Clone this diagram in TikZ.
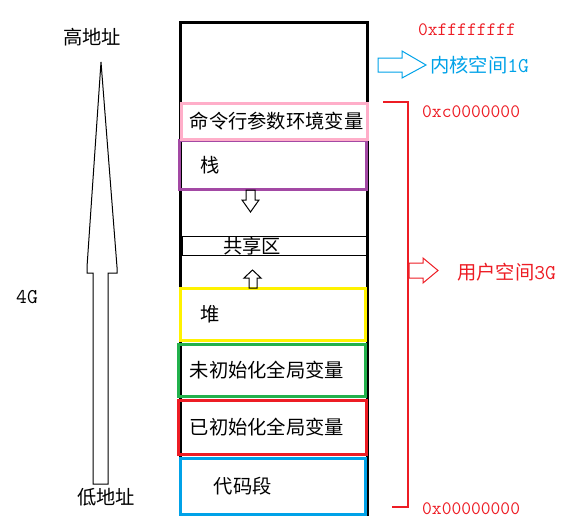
\documentclass[tikz,border=0pt]{standalone}
\usepackage{fontspec}
\setmainfont{Liberation Serif}
\newfontfamily\cjk{Noto Sans CJK SC}
\usetikzlibrary{positioning, calc}
\definecolor{segpink}{HTML}{FFAEC9}
\definecolor{segpurple}{HTML}{A349A4}
\definecolor{segyellow}{HTML}{FFF200}
\definecolor{seggreen}{HTML}{22B14C}
\definecolor{segred}{HTML}{ED1C24}
\definecolor{segblue}{HTML}{00A2E8}
\newcommand{\halfw}[1]{{\ttfamily\fontsize{21}{21}\selectfont #1}}
\tikzset{
  seg/.style={draw, line width=3pt, inner sep=0pt},
  zhtext/.style={font=\cjk\fontsize{19.3}{19.3}\selectfont, inner sep=0pt},
  hextext/.style={font=\ttfamily\fontsize{19}{19}\selectfont, inner sep=0pt, text=segred},
  blockarrow/.style={line width=1pt, line join=miter}
}
\begin{document}
\begin{tikzpicture}[x=1pt, y=-1pt]
  \useasboundingbox (0,0) rectangle (581,523);
  \draw[line width=3pt] (180,22) rectangle (367,514);
  \node[seg, draw=segpurple, minimum width=187, minimum height=49.5] (stack) at (273,164.75) {};
  \node[seg, draw=segpink, minimum width=186, minimum height=36] (args) at (274.5,121.5) {};
  \node[draw, line width=0.8pt, inner sep=0pt, minimum width=185, minimum height=19] (shared) at (274.5,245.5) {};
  \node[seg, draw=segyellow, minimum width=185, minimum height=52] (heap) at (272.5,314.5) {};
  \node[seg, draw=seggreen, minimum width=187, minimum height=52] (bss) at (272,370.5) {};
  \node[seg, draw=segred, minimum width=188, minimum height=54] (data) at (272.5,427.5) {};
  \node[seg, draw=segblue, minimum width=185, minimum height=56] (code) at (273,486.5) {};

  \node[zhtext, anchor=west] (argslbl) at ([xshift=9.5pt]args.west) {命令行参数环境变量};
  \node[zhtext, anchor=west] (stacklbl) at ([xshift=22.5pt]stack.west) {栈};
  \node[zhtext] (sharedlbl) at (252,246) {共享区};
  \node[zhtext, anchor=west] (heaplbl) at ([xshift=22pt]heap.west) {堆};
  \node[zhtext, anchor=west] (bsslbl) at ([xshift=12.5pt]bss.west) {未初始化全局变量};
  \node[zhtext, anchor=west] (datalbl) at ([xshift=12.5pt]data.west) {已初始化全局变量};
  \node[zhtext, anchor=west] (codelbl) at ([xshift=34.5pt]code.west) {代码段};

  \draw[blockarrow] (246,190) -- (255,190) -- (255,200) -- (259,200) -- (250.5,212) -- (242,200) -- (246,200) -- cycle;
  \draw[blockarrow] (252.5,270) -- (261,278) -- (257,278) -- (257,288) -- (249,288) -- (249,278) -- (244,278) -- cycle;

  \draw[blockarrow] (101,62) -- (117,267) -- (117,273) -- (108,273) -- (108,484) -- (93,484) -- (93,273) -- (87,273) -- (87,267) -- cycle;
  \node[zhtext] (high) at (92,37) {高地址};
  \node[zhtext] (low) at (106,497) {低地址};
  \node[inner sep=0pt] (total) at (27,297) {\halfw{4G}};

  \node[hextext] (top) at (467,30) {0xffffffff};
  \draw[blockarrow, draw=segblue] (378,58) -- (402,58) -- (402,51) -- (426,65) -- (402,78) -- (402,72) -- (378,72) -- cycle;
  \node[zhtext, anchor=west, text=segblue] (kernel) at (430,65) {内核空间\halfw{1G}};
  \node[hextext, anchor=west] (split) at (422,112) {0xc0000000};
  \draw[segred, line width=1.2pt] (383,102) -| (408,507) -- (392,507);
  \draw[blockarrow, draw=segred] (409,263) -- (423,263) -- (423,258) -- (438,270.5) -- (423,283) -- (423,278) -- (409,278) -- cycle;
  \node[zhtext, anchor=west, text=segred] (user) at (457,272) {用户空间\halfw{3G}};
  \node[hextext, anchor=west] (bottom) at (422,509) {0x00000000};
\end{tikzpicture}
\end{document}
